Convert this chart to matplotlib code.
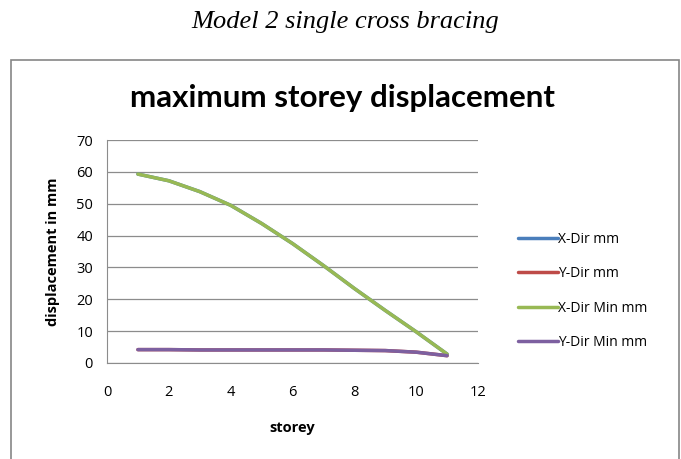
import matplotlib
matplotlib.use("Agg")
import matplotlib.pyplot as plt
from matplotlib.patches import Rectangle

storey = [1, 2, 3, 4, 5, 6, 7, 8, 9, 10, 11]
x_dir = [59.3, 57.2, 53.8, 49.5, 43.8, 37.5, 30.6, 23.4, 16.5, 9.8, 2.8]
y_dir = [4.2, 4.2, 4.1, 4.1, 4.1, 4.1, 4.1, 4.0, 3.9, 3.4, 2.3]
x_dir_min = [59.3, 57.2, 53.8, 49.5, 43.8, 37.5, 30.6, 23.4, 16.5, 9.8, 2.8]
y_dir_min = [4.2, 4.2, 4.1, 4.1, 4.1, 4.1, 4.1, 4.0, 3.9, 3.4, 2.3]
series_names = ["X-Dir mm", "Y-Dir mm", "X-Dir Min mm", "Y-Dir Min mm"]
colors = ["#4a7ebb", "#be4b48", "#98b954", "#7d60a0"]

fig = plt.figure(figsize=(6.81, 4.59), dpi=100)
fig.patch.set_facecolor("white")

fig.text(345/681, 1-22/459, "Model 2 single cross bracing", ha="center", va="center",
         fontsize=19, style="italic", family="Liberation Serif")
fig.patches.append(Rectangle((11/681, -0.05), (679-11)/681, 1-60/459+0.05,
                             transform=fig.transFigure, fill=False,
                             edgecolor="#868686", linewidth=1.2))
fig.text(342/681, 1-98/459, "maximum storey displacement", ha="center", va="center",
         fontsize=22.5, fontweight="bold", family="Lato")

ax = fig.add_axes([107/681, 1-363/459, (478-107)/681, (363-140)/459])
for name, vals, c in zip(series_names, [x_dir, y_dir, x_dir_min, y_dir_min], colors):
    ax.plot(storey, vals, color=c, linewidth=2.5, label=name, solid_capstyle="round")

ax.set_xlim(0, 12)
ax.set_ylim(0, 70)
ax.set_xticks(range(0, 13, 2))
ax.set_yticks(range(0, 71, 10))
ax.yaxis.grid(True, color="#8c8c8c", linewidth=0.9)
ax.set_axisbelow(True)
for s in ["top", "right"]:
    ax.spines[s].set_visible(False)
for s in ["left", "bottom"]:
    ax.spines[s].set_color("#8c8c8c")
ax.tick_params(length=0, labelsize=10.5)
ax.tick_params(axis="x", pad=16)
ax.tick_params(axis="y", pad=10)
for lbl in ax.get_xticklabels() + ax.get_yticklabels():
    lbl.set_family("Open Sans")
ax.set_xlabel("storey", fontsize=10.5, fontweight="bold", family="Open Sans", labelpad=15)
ax.set_ylabel("displacement in mm", fontsize=10.5, fontweight="bold", family="Open Sans", labelpad=12)

leg = fig.legend(loc="center left", bbox_to_anchor=(505/681, 1-291/459), frameon=False,
                 prop={"family": "Open Sans", "size": 10}, handlelength=2.9,
                 handletextpad=0.0, labelspacing=1.4)

fig.savefig("out.png", dpi=100)
